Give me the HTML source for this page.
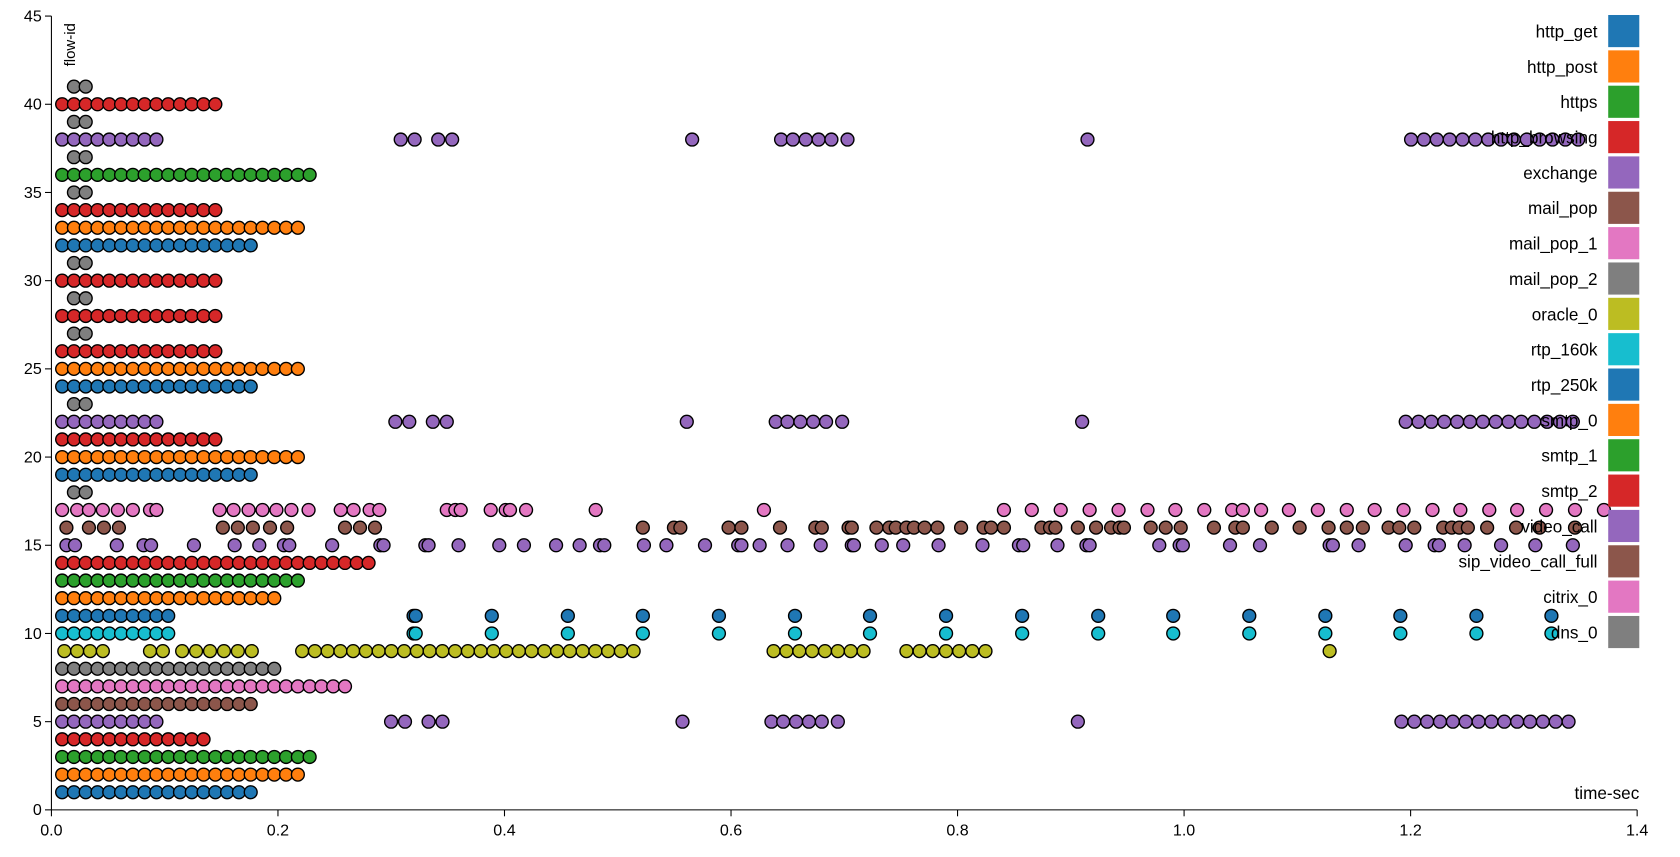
<!DOCTYPE html>
<html><head><meta charset="utf-8"><style>
html,body{margin:0;padding:0;background:#fff;}
svg{display:block;font-family:"Liberation Sans",sans-serif;}
</style></head><body>
<svg id="s" width="1680" height="857" viewBox="0 0 1568 800" preserveAspectRatio="none" xmlns="http://www.w3.org/2000/svg"></svg>
<script>
const s=document.getElementById('s');
const C=['#1f77b4','#ff7f0e','#2ca02c','#d62728','#9467bd','#8c564b','#e377c2','#7f7f7f','#bcbd22','#17becf'];
const X0=48,X1=1528,Y0=756,YU=(756-15)/45;
let h='';
function yy(v){return Y0-v*YU;}
function run(a,b,st){let r=[];for(let x=a;x<=b+0.1;x+=st)r.push(x);return r;}
const rows=[];
function add(id,col,xs){rows.push([id,col,xs]);}
const per=[388,459,530,600,671,742,812,883,954,1025,1095,1166,1237,1307,1378,1448];
add(1,C[0],run(58,234,11));
add(2,C[1],run(58,280,11));
add(3,C[2],run(58,291,11));
add(4,C[3],run(58,200,11));
const p5=[58,69,80,91,102,113,124,135,146,365,378,400,413,637,720,731,743,755,767,782,1006].concat(run(1308,1465,12));
add(5,C[4],p5);
add(6,C[5],run(58,235,11));
add(7,C[6],run(58,324,11));
add(8,C[7],run(58,258,11));
add(9,C[8],[60,72,84,96,140,152].concat(run(170,235,13),run(282,592,11.9),run(722,806,12),run(846,920,12.3),[1241]));
add(10,C[9],run(58,165,11).concat([386],per));
add(11,C[0],run(58,165,11).concat([386],per));
add(12,C[1],run(58,265,11));
add(13,C[2],run(58,285,11));
add(14,C[3],run(58,350,11));
add(15,C[4],[62,70,109,134,141,181,219,242,265,270,310,355,358,397,400,428,466,489,519,541,560,564,601,622,658,689,692,709,735,766,795,797,823,843,876,917,951,955,987,1014,1017,1082,1101,1104,1148,1176,1241,1244,1268,1312,1339,1343,1367,1401,1433,1468]);
add(16,C[5],[62,83,97,111,208,222,236,252,268,322,336,350,600,629,635,680,692,728,761,767,792,795,818,830,836,846,853,863,875,897,918,925,937,972,980,985,1006,1023,1037,1045,1049,1074,1088,1102,1133,1153,1160,1187,1213,1240,1257,1272,1296,1306,1320,1347,1355,1362,1370,1388,1415,1437,1470]);
add(17,C[6],[58,72,83,96,110,124,140,146,205,218,232,245,258,272,288,318,330,345,354,417,425,430,458,472,476,491,556,713,937,963,990,1017,1044,1071,1097,1124,1150,1160,1177,1203,1230,1257,1283,1310,1337,1363,1390,1416,1443,1470,1497]);
[18,23,27,29,31,35,37,39,41].forEach(i=>add(i,C[7],[69,80]));
add(19,C[0],run(58,235,11));
add(20,C[1],run(58,285,11));
add(21,C[3],run(58,203,11));
add(22,C[4],p5.map(x=>x<300?x:x+4));
add(24,C[0],run(58,235,11));
add(25,C[1],run(58,287,11));
add(26,C[3],run(58,205,11));
add(28,C[3],run(58,205,11));
add(30,C[3],run(58,205,11));
add(32,C[0],run(58,240,11));
add(33,C[1],run(58,288,11));
add(34,C[3],run(58,205,11));
add(36,C[2],run(58,298,11));
add(38,C[4],p5.map(x=>x<300?x:x+9));
add(40,C[3],run(58,208,11));
h+=`<line x1="${X0}" y1="${Y0}" x2="${X1}" y2="${Y0}" stroke="#000"/>`;
h+=`<line x1="${X0}" y1="${Y0}" x2="${X0}" y2="15" stroke="#000"/>`;
for(let i=0;i<=7;i++){let x=X0+i*(X1-X0)/7;h+=`<line x1="${x}" y1="${Y0}" x2="${x}" y2="${Y0+6}" stroke="#000"/><text x="${x}" y="780" font-size="15" text-anchor="middle">${i==0?'0.0':(i*0.2).toFixed(1)}</text>`;}
for(let v=0;v<=45;v+=5){let y=yy(v);h+=`<line x1="${X0-6}" y1="${y}" x2="${X0}" y2="${y}" stroke="#000"/><text x="${X0-9}" y="${y+5}" font-size="15" text-anchor="end">${v}</text>`;}
h+=`<text transform="translate(70,62) rotate(-90)" font-size="14">flow-id</text>`;
h+=`<text x="1530" y="746" font-size="16" text-anchor="end">time-sec</text>`;
rows.forEach(([id,col,xs])=>{let y=yy(id);xs.forEach(x=>{h+=`<circle cx="${x}" cy="${y}" r="6" fill="${col}" stroke="#000" stroke-width="1.3"/>`;});});
const L=['http_get','http_post','https','http_browsing','exchange','mail_pop','mail_pop_1','mail_pop_2','oracle_0','rtp_160k','rtp_250k','smtp_0','smtp_1','smtp_2','video_call','sip_video_call_full','citrix_0','dns_0'];
L.forEach((n,i)=>{let y=14+i*33;h+=`<rect x="1501" y="${y}" width="29" height="30" fill="${C[i%10]}"/><text x="1491" y="${y+21}" font-size="16" text-anchor="end">${n}</text>`;});
s.innerHTML=h;
</script>
</body></html>
